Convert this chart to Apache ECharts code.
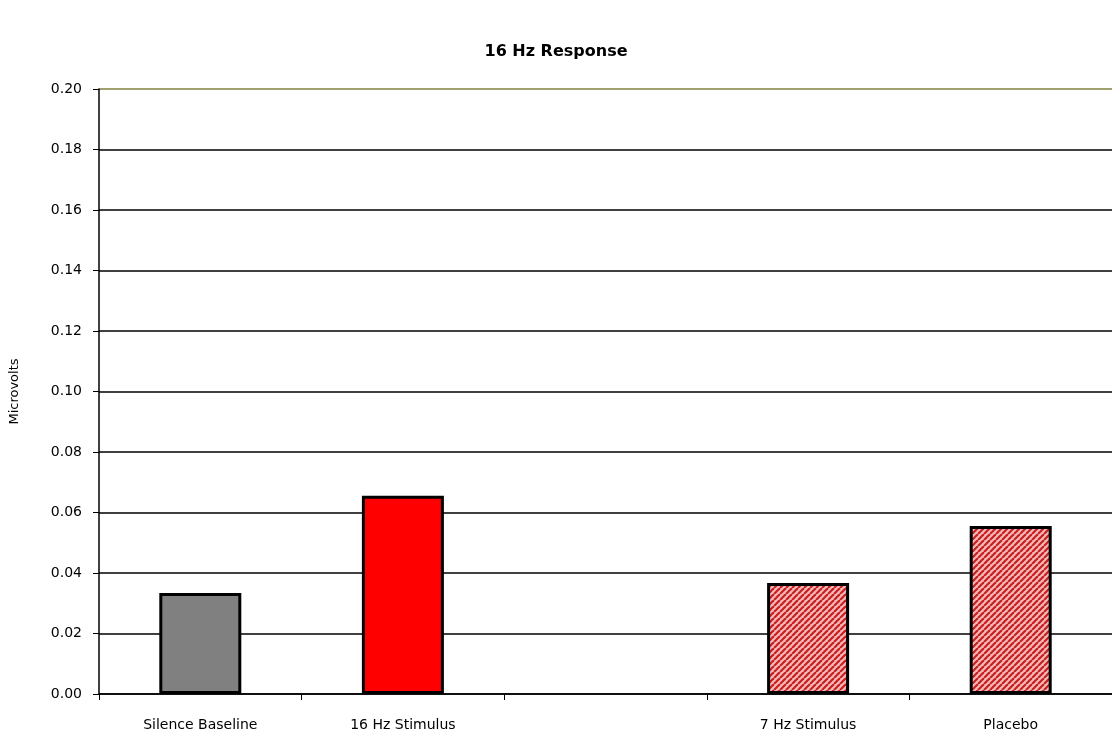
<!DOCTYPE html>
<html>
<head>
<meta charset="utf-8">
<script src="https://cdn.jsdelivr.net/npm/echarts@6/dist/echarts.min.js"></script>
<style>
  html, body { margin: 0; padding: 0; background: #fff; }
  #chart { width: 1112px; height: 736px; }
</style>
</head>
<body>
<div id="chart"></div>
<script>
const categories = ['Silence Baseline', '16 Hz Stimulus', '', '7 Hz Stimulus', 'Placebo'];
const values = [0.0334, 0.0655, null, 0.0367, 0.0555];
const yTicks = [0, 0.02, 0.04, 0.06, 0.08, 0.10, 0.12, 0.14, 0.16, 0.18, 0.20];

// red/white diagonal hatch for the last two bars
function makeHatch() {
  const c = document.createElement('canvas');
  c.width = 6;
  c.height = 6;
  const ctx = c.getContext('2d');
  ctx.fillStyle = '#f4b8b8';
  ctx.fillRect(0, 0, 6, 6);
  ctx.strokeStyle = '#c82020';
  ctx.lineWidth = 2.2;
  for (let k = -6; k <= 12; k += 6) {
    ctx.beginPath();
    ctx.moveTo(k, 6);
    ctx.lineTo(k + 6, 0);
    ctx.stroke();
  }
  return c;
}
const hatch = { image: makeHatch(), repeat: 'repeat' };
const barColors = ['#808080', '#ff0000', '#ffffff', hatch, hatch];
const font = 'DejaVu Sans, sans-serif';

const chart = echarts.init(document.getElementById('chart'));
chart.setOption({
  animation: false,
  title: {
    text: '16 Hz Response',
    left: 'center',
    top: 39,
    textStyle: { fontFamily: font, fontSize: 16, fontWeight: 'bold', color: '#000' }
  },
  grid: { left: 96, right: -6, top: 89, bottom: 42, containLabel: false },
  xAxis: {
    type: 'category',
    data: categories,
    axisLine: { lineStyle: { color: '#000', width: 1.5 } },
    axisTick: { show: true, alignWithLabel: false, length: 6, lineStyle: { color: '#000' } },
    axisLabel: { color: '#000', fontFamily: font, fontSize: 14, margin: 24 },
    splitLine: { show: false }
  },
  yAxis: {
    type: 'value',
    min: 0,
    max: 0.20,
    interval: 0.02,
    name: 'Microvolts',
    nameLocation: 'middle',
    nameGap: 78,
    nameTextStyle: { color: '#000', fontFamily: font, fontSize: 13 },
    axisLine: { show: true, lineStyle: { color: '#000', width: 1.5 } },
    axisTick: { show: true, length: 6, inside: false, lineStyle: { color: '#000' } },
    axisLabel: {
      color: '#000',
      fontFamily: font,
      fontSize: 14,
      margin: 17,
      formatter: v => v.toFixed(2)
    },
    splitLine: {
      show: true,
      lineStyle: {
        width: 1.5,
        color: yTicks.map((t, i) => (i === yTicks.length - 1 ? '#808040' : '#000'))
      }
    }
  },
  series: [{
    type: 'bar',
    data: values.map((v, i) => ({
      value: v,
      itemStyle: { color: barColors[i], borderColor: '#000', borderWidth: 3 }
    })),
    barWidth: 82
  }]
});
</script>
</body>
</html>
